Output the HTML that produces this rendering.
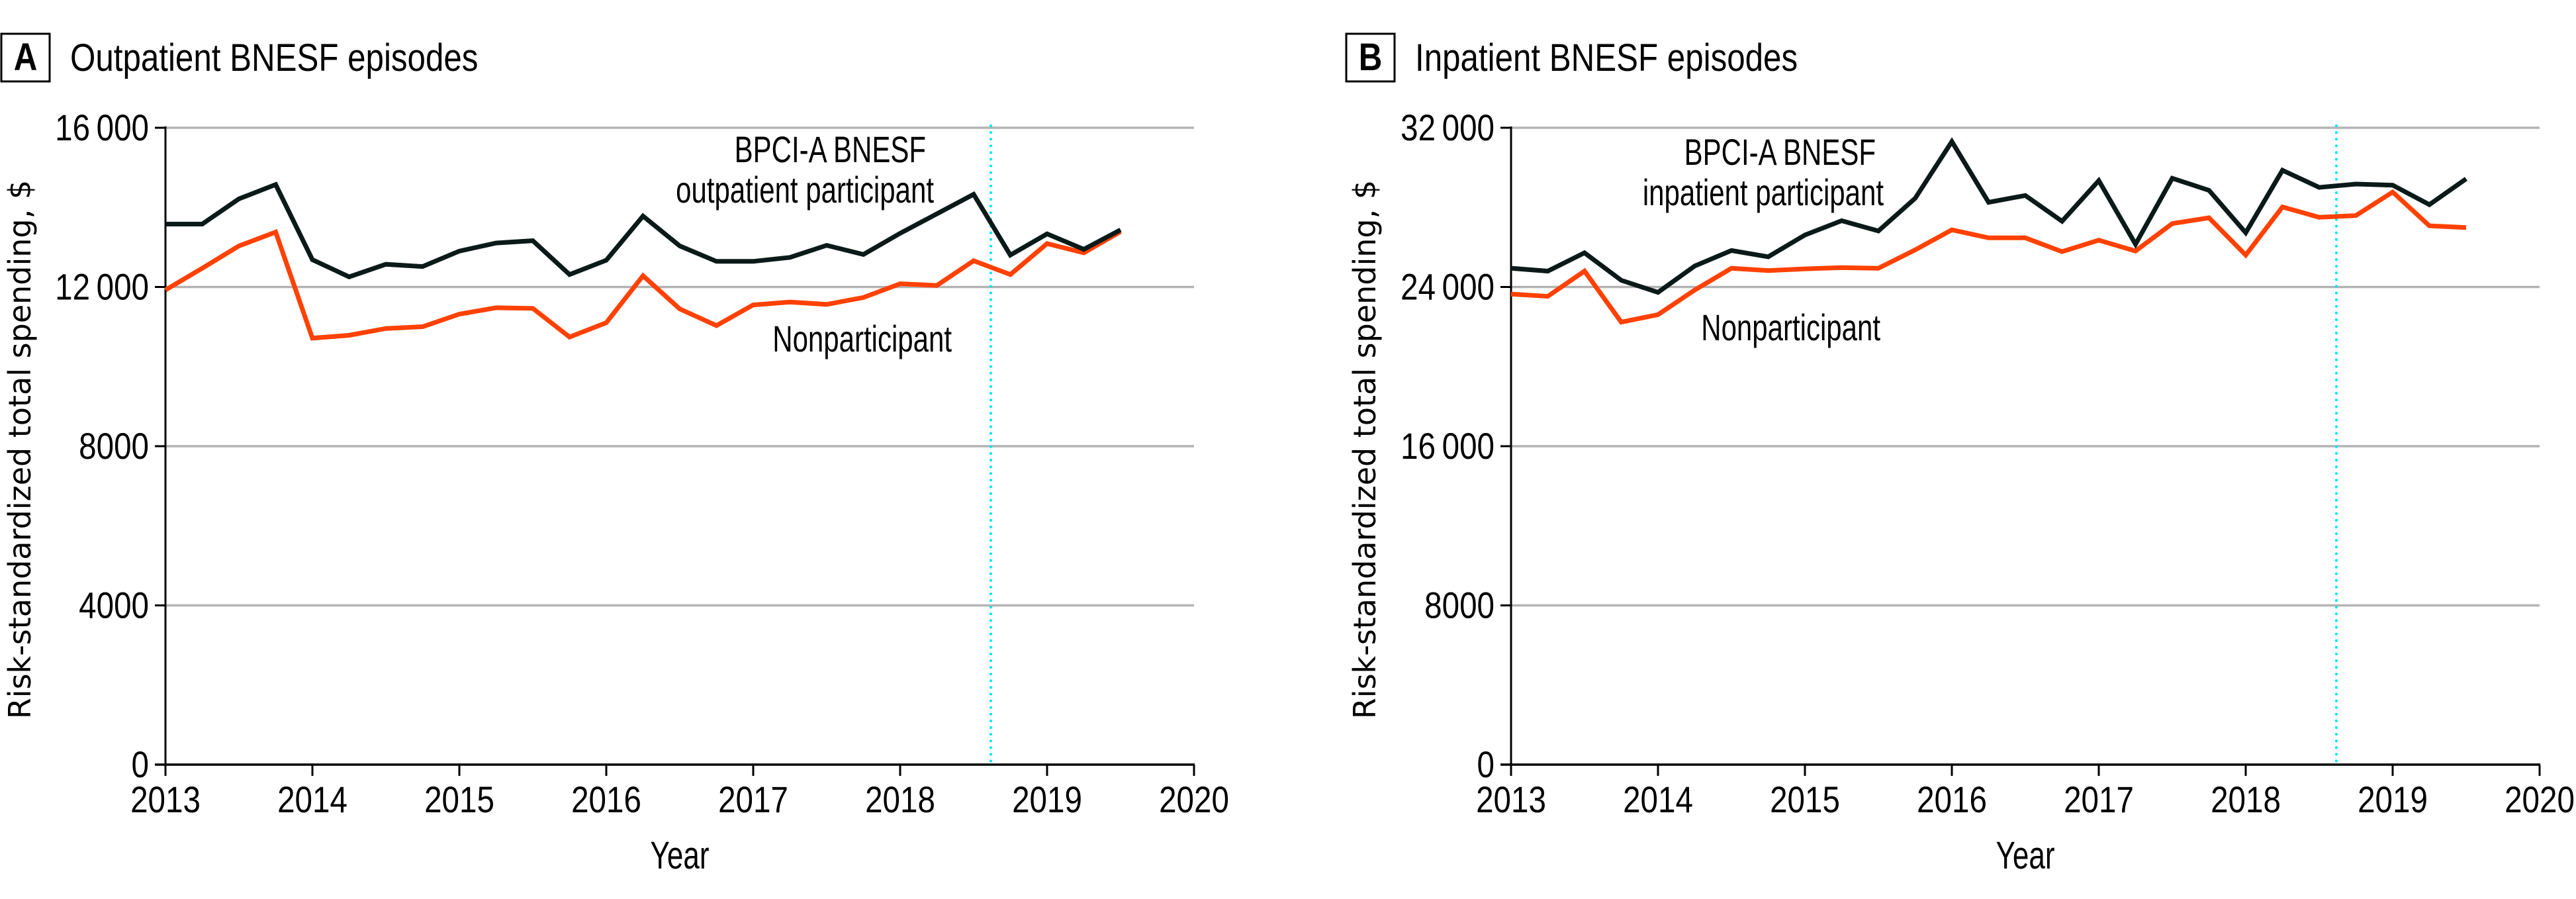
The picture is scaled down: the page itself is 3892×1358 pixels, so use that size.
<!DOCTYPE html>
<html><head><meta charset="utf-8"><style>
html,body{margin:0;padding:0;background:#fff;width:3892px;height:1358px;overflow:hidden}
svg{display:block}
.nar{font-family:"Liberation Sans",sans-serif;fill:#000}
.yt{font-family:"DejaVu Sans","Liberation Sans",sans-serif;fill:#000;font-size:46px}
</style></head><body>
<svg id="chart" width="3892" height="1358" viewBox="0 0 3892 1358"></svg>
<script>
const years = [2013,2014,2015,2016,2017,2018,2019,2020];
const quarters = [2013,2013.25,2013.5,2013.75,2014,2014.25,2014.5,2014.75,2015,2015.25,2015.5,2015.75,2016,2016.25,2016.5,2016.75,2017,2017.25,2017.5,2017.75,2018,2018.25,2018.5,2018.75,2019,2019.25,2019.5];
const ticksA = [0,4000,8000,12000,16000];
const ticksB = [0,8000,16000,24000,32000];
const tickLabelsA = ["0","4000","8000","12\u2009000","16\u2009000"];
const tickLabelsB = ["0","8000","16\u2009000","24\u2009000","32\u2009000"];
const outParticipant = [13580,13580,14213,14573,12686,12254,12571,12514,12902,13104,13162,12312,12672,13781,13032,12643,12643,12744,13046,12816,13349,13838,14328,12802,13334,12946,13435];
const outNonparticipant = [11923,12470,13032,13378,10714,10786,10958,11002,11318,11477,11462,10742,11102,12283,11448,11030,11549,11621,11563,11736,12082,12038,12658,12312,13090,12859,13392];
const inParticipant = [24941,24797,25718,24336,23731,25056,25834,25517,26611,27331,26813,28454,31306,28253,28598,27302,29347,26150,29462,28858,26726,29866,29002,29174,29117,28138,29434];
const inNonparticipant = [23645,23530,24797,22234,22608,23846,24941,24826,24912,24970,24941,25862,26870,26467,26467,25776,26352,25805,27187,27475,25603,28022,27504,27590,28771,27072,26986];
const startYear = [2018.617];

const NS = "http://www.w3.org/2000/svg";
const svg = document.getElementById('chart');
function mk(tag, attrs, parent, txt){
  const e = document.createElementNS(NS, tag);
  for (const k in attrs) e.setAttribute(k, attrs[k]);
  if (txt !== undefined) e.textContent = txt;
  (parent||svg).appendChild(e);
  return e;
}
function ntext(parent, x, y, anchor, size, txt, sx, weight){
  const a = {x:0, y:0, 'text-anchor':anchor, 'font-size':size, class:'nar', transform:`translate(${x},${y}) scale(${sx},1)`};
  if (weight) a['font-weight'] = weight;
  return mk('text', a, parent, txt);
}

function panel(cfg){
  const g = mk('g', {});
  
  
  const x0 = cfg.x0, x1 = cfg.x0 + 7*222, yTop = 193, yBot = 1155;
  const xs = v => x0 + (v - 2013) / 7 * (x1 - x0);
  const ys = v => yBot - v / cfg.ymax * (yBot - yTop);

  const box = mk('rect', {x:cfg.boxX, y:51, width:73, height:72, fill:'none', stroke:'#000', 'stroke-width':3}, g);
  
  
  const bl = ntext(g, cfg.boxX+36.5, 106, 'middle', 58, cfg.letter, 0.85, 'bold');
  
  
  const tt = ntext(g, cfg.boxX+104, 107, 'start', 58, cfg.title, 0.85);
  
  

  cfg.ticks.forEach((t, i) => {
    const y = ys(t);
    if (t > 0) {
      const gl = mk('line', {x1:x0, x2:x1, y1:y, y2:y, stroke:'#b3b3b3', 'stroke-width':3.5}, g);
      
      
    }
    const tk = mk('line', {x1:x0-16, x2:x0, y1:y, y2:y, stroke:'#000', 'stroke-width':3}, g);
    
    
    const tl = ntext(g, x0-25, y+19, 'end', 56, cfg.tickLabels[i], 0.85);
    
    
  });

  years.forEach(yr => {
    const x = xs(yr);
    const tk = mk('line', {x1:x, x2:x, y1:yBot, y2:yBot+17, stroke:'#000', 'stroke-width':3}, g);
    
    
    const tl = ntext(g, x, 1227, 'middle', 56, String(yr), 0.85);
    
    
  });

  const sx = xs(startYear[0]);
  const sl = mk('line', {x1:sx, x2:sx, y1:yTop-3, y2:yBot, stroke:'#00e6ef', 'stroke-width':4, 'stroke-dasharray':'0.1 10', 'stroke-linecap':'round'}, g);
  
  

  const ya = mk('line', {x1:x0, x2:x0, y1:yTop-2, y2:yBot, stroke:'#000', 'stroke-width':3}, g);
  
  
  const xa = mk('line', {x1:x0-16, x2:x1+1, y1:yBot, y2:yBot, stroke:'#000', 'stroke-width':3.5}, g);
  
  

  const pts = arr => arr.map((v, i) => xs(quarters[i]).toFixed(1) + ',' + ys(v).toFixed(1)).join(' ');
  const o = mk('polyline', {points:pts(cfg.non), fill:'none', stroke:'#ff4100', 'stroke-width':7, 'stroke-linejoin':'miter'}, g);
  
  
  const b = mk('polyline', {points:pts(cfg.part), fill:'none', stroke:'#0a1a18', 'stroke-width':7, 'stroke-linejoin':'miter'}, g);
  
  

  cfg.labels.forEach(l => {
    const t = ntext(g, l[0], l[1], 'end', 56, l[2], 0.75);
    
    
  });

  const xt = ntext(g, (x0+x1)/2, 1312, 'middle', 58, 'Year', 0.76);
  
  
  const ytt = mk('text', {x:0, y:0, 'text-anchor':'middle', class:'yt', transform:`translate(${cfg.ytx},${(yTop+yBot)/2+5}) rotate(-90)`}, g, 'Risk-standardized total spending, $');
  
  
}

panel({name:'panel-a-outpatient', x0:250, ymax:16000, ticks:ticksA, tickLabels:tickLabelsA, boxX:2, letter:'A', title:'Outpatient BNESF episodes',
  part:outParticipant, non:outNonparticipant, ytx:46,
  labels:[[1399,245,'BPCI-A BNESF','participant-label-line1'],[1411,306,'outpatient participant','participant-label-line2'],[1438,531,'Nonparticipant','nonparticipant-label']]});
panel({name:'panel-b-inpatient', x0:2283, ymax:32000, ticks:ticksB, tickLabels:tickLabelsB, boxX:2034, letter:'B', title:'Inpatient BNESF episodes',
  part:inParticipant, non:inNonparticipant, ytx:2078,
  labels:[[2834,249,'BPCI-A BNESF','participant-label-line1'],[2846,310,'inpatient participant','participant-label-line2'],[2841,514,'Nonparticipant','nonparticipant-label']]});
</script>
</body></html>
